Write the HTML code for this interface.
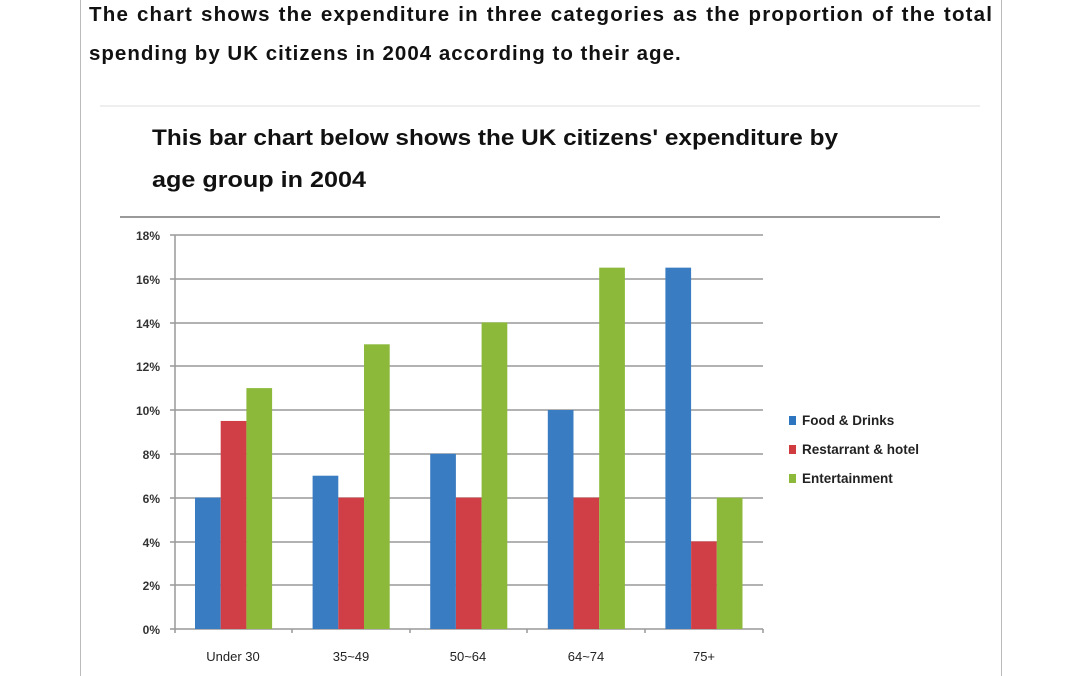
<!DOCTYPE html>
<html><head><meta charset="utf-8"><style>
body{margin:0;width:1080px;height:676px;background:#fff;overflow:hidden;position:relative;font-family:"Liberation Sans",sans-serif}
.t{position:absolute;left:89px;font-weight:bold;font-size:20.5px;color:#111;letter-spacing:1.2px;white-space:nowrap}
</style></head><body>
<div style="position:absolute;left:80px;top:0;width:1px;height:676px;background:#bbb"></div>
<div style="position:absolute;left:1001px;top:0;width:1px;height:676px;background:#bbb"></div>
<div class="t" style="top:3px;word-spacing:1px">The chart shows the expenditure in three categories as the proportion of the total</div>
<div class="t" style="top:42px;letter-spacing:1.0px">spending by UK citizens in 2004 according to their age.</div>
<svg width="1080" height="676" style="position:absolute;left:0;top:0" font-family="Liberation Sans, sans-serif">
<line x1="100" y1="106" x2="980" y2="106" stroke="#ddd" stroke-width="1"/>
<text x="152" y="145" font-size="22.5" font-weight="bold" fill="#111" textLength="686" lengthAdjust="spacingAndGlyphs">This bar chart below shows the UK citizens' expenditure by</text>
<text x="152" y="187" font-size="22.5" font-weight="bold" fill="#111" textLength="214" lengthAdjust="spacingAndGlyphs">age group in 2004</text>
<line x1="120" y1="217" x2="940" y2="217" stroke="#999" stroke-width="2"/>
<g stroke="#999" stroke-width="1.5">
<line x1="170" y1="235" x2="763" y2="235"/><line x1="170" y1="279" x2="763" y2="279"/>
<line x1="170" y1="323" x2="763" y2="323"/><line x1="170" y1="366" x2="763" y2="366"/>
<line x1="170" y1="410" x2="763" y2="410"/><line x1="170" y1="454" x2="763" y2="454"/>
<line x1="170" y1="498" x2="763" y2="498"/><line x1="170" y1="542" x2="763" y2="542"/>
<line x1="170" y1="585" x2="763" y2="585"/><line x1="170" y1="629" x2="763" y2="629"/>
<line x1="175" y1="235" x2="175" y2="633"/>
<line x1="292" y1="629" x2="292" y2="633"/><line x1="410" y1="629" x2="410" y2="633"/>
<line x1="527" y1="629" x2="527" y2="633"/><line x1="645" y1="629" x2="645" y2="633"/><line x1="763" y1="629" x2="763" y2="633"/>
</g>
<g font-size="12" font-weight="bold" fill="#333" text-anchor="end">
<text x="160" y="240">18%</text><text x="160" y="284">16%</text><text x="160" y="328">14%</text>
<text x="160" y="371">12%</text><text x="160" y="415">10%</text><text x="160" y="459">8%</text>
<text x="160" y="503">6%</text><text x="160" y="547">4%</text><text x="160" y="590">2%</text><text x="160" y="634">0%</text>
</g>
<g id="bars"></g>
<g font-size="13" fill="#222" text-anchor="middle">
<text x="233" y="661">Under 30</text><text x="351" y="661">35~49</text><text x="468" y="661">50~64</text>
<text x="586" y="661">64~74</text><text x="704" y="661">75+</text>
</g>
<rect x="789" y="416" width="7" height="9" fill="#2e75c0"/>
<rect x="789" y="445" width="7" height="9" fill="#d03b40"/>
<rect x="789" y="474" width="7" height="9" fill="#8cb93a"/>
<g font-size="13.5" fill="#222" font-weight="bold">
<text x="802" y="425">Food &amp; Drinks</text><text x="802" y="454">Restarrant &amp; hotel</text><text x="802" y="483">Entertainment</text>
</g>
</svg>
<script>
var d=[[6,9.5,11],[7,6,13],[8,6,14],[10,6,16.5],[16.5,4,6]],c=["#3a7cc2","#cf3f45","#8cb93a"],s="";
for(var i=0;i<5;i++)for(var j=0;j<3;j++){var x=195+i*117.6+j*25.7,h=d[i][j]*21.9;
s+='<rect x="'+x+'" y="'+(629-h)+'" width="25.7" height="'+h+'" fill="'+c[j]+'"/>';}
document.getElementById("bars").innerHTML=s;
</script>
</body></html>
